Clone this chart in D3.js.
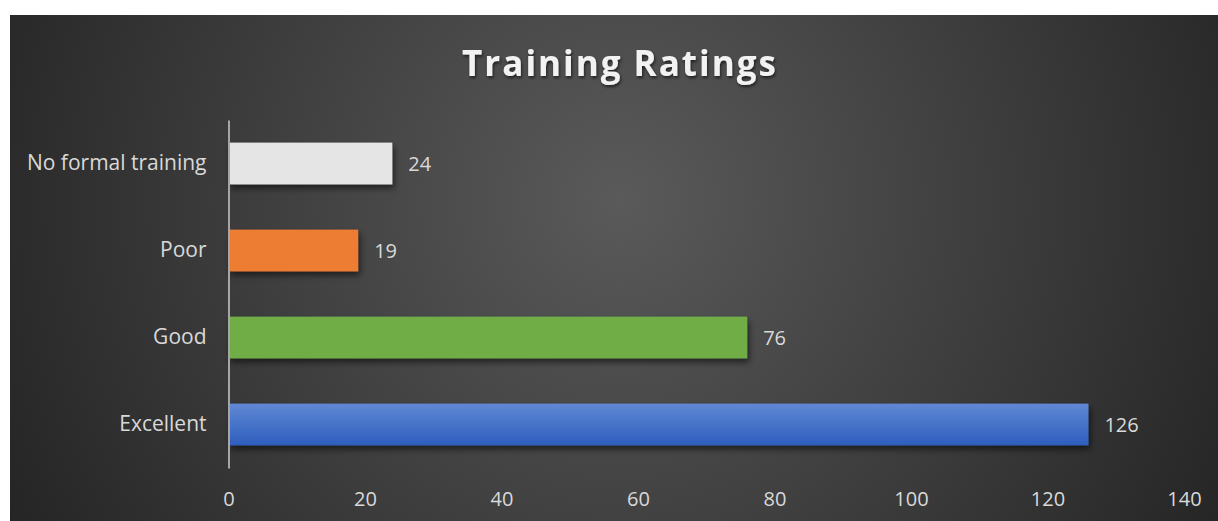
<!DOCTYPE html>
<html>
<head>
<meta charset="utf-8">
<script src="https://cdn.jsdelivr.net/npm/d3@7"></script>
<style>
  body { margin: 0; background: #fff; }
  svg { display: block; }
</style>
</head>
<body>
<div id="chart"></div>
<script>
// data
var categories = ["No formal training", "Poor", "Good", "Excellent"];
var values = [24, 19, 76, 126];
var barColors = ["#e5e5e5", "#ed7d31", "#70ad47", "#4472c4"];
var xTicks = [0, 20, 40, 60, 80, 100, 120, 140];
var title = "Training Ratings";

var W = 1218, H = 521;
var svg = d3.select("#chart").append("svg")
    .attr("width", W)
    .attr("height", H)
    .attr("font-family", "'Open Sans', Lato, sans-serif");

var defs = svg.append("defs");

var bg = defs.append("radialGradient")
    .attr("id", "bg")
    .attr("gradientUnits", "userSpaceOnUse")
    .attr("cx", 620).attr("cy", 200).attr("r", 700);
bg.append("stop").attr("offset", "0%").attr("stop-color", "#5a5a5a");
bg.append("stop").attr("offset", "100%").attr("stop-color", "#242424");

var blue = defs.append("linearGradient")
    .attr("id", "blueGrad")
    .attr("x1", 0).attr("y1", 0).attr("x2", 0).attr("y2", 1);
blue.append("stop").attr("offset", "0%").attr("stop-color", "#6088d4");
blue.append("stop").attr("offset", "100%").attr("stop-color", "#2e5ebd");

var shadow = defs.append("filter").attr("id", "shadow")
    .attr("x", "-5%").attr("y", "-20%").attr("width", "115%").attr("height", "160%");
shadow.append("feDropShadow")
    .attr("dx", 2).attr("dy", 4).attr("stdDeviation", 3)
    .attr("flood-color", "#000").attr("flood-opacity", 0.55);

var tshadow = defs.append("filter").attr("id", "tshadow");
tshadow.append("feDropShadow")
    .attr("dx", 1).attr("dy", 2).attr("stdDeviation", 1.5)
    .attr("flood-color", "#000").attr("flood-opacity", 0.6);

// chart area
svg.append("rect")
    .attr("x", 10).attr("y", 15)
    .attr("width", W - 10).attr("height", H - 15)
    .attr("fill", "url(#bg)");

svg.append("text")
    .attr("x", 620).attr("y", 76)
    .attr("text-anchor", "middle")
    .attr("font-size", 35)
    .attr("font-weight", "bold")
    .attr("letter-spacing", 2)
    .attr("fill", "#f2f2f2")
    .attr("filter", "url(#tshadow)")
    .text(title);

var x = d3.scaleLinear().domain([0, 140]).range([228.5, 1184]);
var y = d3.scaleBand().domain(categories).range([120, 468]).paddingInner(0.52).paddingOuter(0.26);

// bars
svg.selectAll(".bar")
  .data(values)
  .enter().append("rect")
    .attr("class", "bar")
    .attr("x", x(0))
    .attr("y", function(d, i) { return y(categories[i]); })
    .attr("width", function(d) { return x(d) - x(0); })
    .attr("height", y.bandwidth())
    .attr("fill", function(d, i) { return i == 3 ? "url(#blueGrad)" : barColors[i]; })
    .attr("filter", "url(#shadow)");

// value labels
svg.selectAll(".val")
  .data(values)
  .enter().append("text")
    .attr("class", "val")
    .attr("x", function(d) { return x(d) + 16; })
    .attr("y", function(d, i) { return y(categories[i]) + y.bandwidth() / 2; })
    .attr("dy", "0.35em")
    .attr("font-size", 20)
    .attr("fill", "#d9d9d9")
    .text(function(d) { return d; });

// y axis
var yAxis = svg.append("g")
    .attr("transform", "translate(" + x(0) + ",0)")
    .call(d3.axisLeft(y).tickSize(0).tickPadding(22));
yAxis.select(".domain").attr("stroke", "#a6a6a6").attr("stroke-width", 2);
yAxis.selectAll("text")
    .attr("font-size", 21)
    .attr("fill", "#d9d9d9")
    .attr("font-family", "'Open Sans', Lato, sans-serif");

// x axis (labels only)
var xAxis = svg.append("g")
    .attr("transform", "translate(0,492)")
    .call(d3.axisBottom(x).tickValues(xTicks).tickSize(0).tickPadding(0));
xAxis.select(".domain").remove();
xAxis.selectAll("text")
    .attr("font-size", 20)
    .attr("fill", "#d9d9d9")
    .attr("font-family", "'Open Sans', Lato, sans-serif");
</script>
</body>
</html>
